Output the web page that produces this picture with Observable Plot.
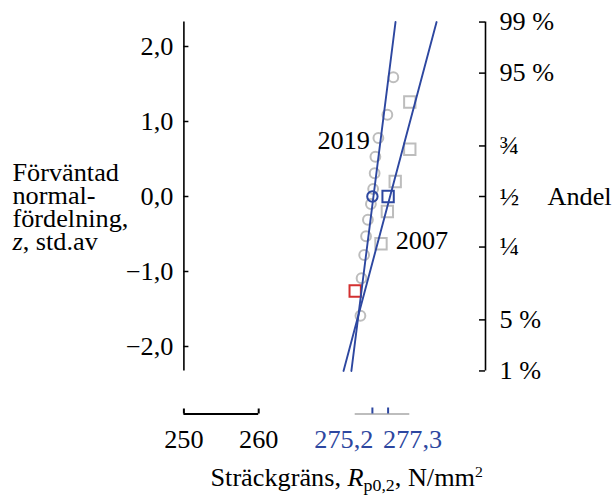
<!DOCTYPE html>
<html><head><meta charset="utf-8">
<script src="https://cdn.jsdelivr.net/npm/d3@7"></script>
<script src="https://cdn.jsdelivr.net/npm/@observablehq/plot@0.6"></script>
<style>
html,body{margin:0;padding:0;background:#fff;}
#chart svg{display:block;}
</style>
</head><body><div id="chart"></div>
<script>
// ---- data ----
const z2019 = [1.59, 1.09, 0.78, 0.53, 0.31, 0.10, -0.10, -0.31, -0.53, -0.78, -1.09, -1.59];
const x2019 = [278.0, 277.2, 276.0, 275.6, 275.5, 275.3, 275.0, 274.6, 274.35, 274.1, 273.75, 273.6];
const z2007 = [1.26, 0.63, 0.20, -0.20, -0.63, -1.26];
const x2007 = [280.2, 280.2, 278.25, 277.2, 276.35, 272.9];
const seriesNames = ["2019", "2007"];
const means = [275.2, 277.3];
const meanLabels = ["275,2", "277,3"];
const fitZ = [-2.326, 2.326];
const fit2019 = [272.39, 278.29];
const fit2007 = [271.34, 283.78];
const zTicks = [-2, -1, 0, 1, 2];
const andelZ = [-2.326, -1.645, -0.674, 0, 0.674, 1.645, 2.326];
const andelLabels = ["1 %", "5 %", "\u00BC", "\u00BD", "\u00BE", "95 %", "99 %"];
const xTicks = [250, 260];
const yTitleLines = ["F\u00F6rv\u00E4ntad", "normal-", "f\u00F6rdelning,", "z, std.av"];
const rightTitle = "Andel";
const xTitle = "Str\u00E4ckgr\u00E4ns, Rp0,2, N/mm2";

// ---- layout ----
const W = 613, H = 495;
const FS = 25, SX = 1.05;
const pxPerUnit = 7.48, x0px = 183.4, xRpx = 485;
const zPx = 75, z0px = 196;
const xs = {domain: [250, 250 + (xRpx - x0px) / pxPerUnit], range: [x0px, xRpx]};
const zTop = 2.326, zBot = -2.326;
const yz = {domain: [zBot, zTop], range: [z0px - zBot * zPx, z0px - zTop * zPx]};
const zAt = py => (z0px - py) / zPx;
const xLen = px => px / pxPerUnit;
const xR = xs.domain[1];
const axisZ = zAt(413.5);
const labelZ = zAt(439.5);
const blue = "#2d47a0", red = "#d33030", gray = "#bdbdbd";
const fmt = d => (d < 0 ? "\u2212" : "") + Math.abs(d).toFixed(1).replace(".", ",");

const pts2019 = z2019.map((z, i) => ({z, x: x2019[i]}));
const pts2007 = z2007.map((z, i) => ({z, x: x2007[i]}));
const fits = [fit2019, fit2007];
const fitLines = seriesNames.flatMap((s, k) => fitZ.map((z, i) => ({series: s, z, x: fits[k][i]})));
const along = (k, z) => fits[k][0] + (z - fitZ[0]) / (fitZ[1] - fitZ[0]) * (fits[k][1] - fits[k][0]);
const allX = [...x2019, ...x2007];
const minAll = d3.min(allX), maxAll = d3.max(allX);
const min2007 = d3.min(x2007);

const plot = Plot.plot({
  width: W, height: H, margin: 0,
  x: {...xs, axis: null},
  y: {...yz, axis: null},
  style: {fontFamily: "'Liberation Serif','Times New Roman',serif", fontSize: FS + "px", background: "white", color: "black", overflow: "visible"},
  marks: [
    // left axis
    Plot.ruleX([xs.domain[0]], {y1: zBot, y2: zTop, stroke: "black", strokeWidth: 1.6}),
    Plot.ruleY(zTicks, {x1: xs.domain[0], x2: xs.domain[0] + xLen(5), stroke: "black", strokeWidth: 1.5}),
    Plot.text(zTicks, {x: xs.domain[0], y: d => d, text: fmt, textAnchor: "end", dx: -10.5}),
    Plot.text([yTitleLines.join("\n")], {frameAnchor: "left", y: zAt(207.5), dx: 12, textAnchor: "start", lineHeight: 23 / FS}),
    // right axis
    Plot.ruleX([xR], {y1: zBot, y2: zTop, stroke: "black", strokeWidth: 1.6}),
    Plot.ruleY(andelZ, {x1: xR - xLen(6), x2: xR, stroke: "black", strokeWidth: 1.5}),
    Plot.text(andelZ, {x: xR, y: d => d, text: (d, i) => andelLabels[i], textAnchor: "start", dx: 14}),
    Plot.text([rightTitle], {x: xR, y: 0, textAnchor: "start", dx: 62}),
    // bottom axis
    Plot.ruleY([axisZ], {x1: minAll, x2: maxAll, stroke: gray, strokeWidth: 2}),
    Plot.ruleY([axisZ], {x1: xTicks[0], x2: xTicks[1], stroke: "black", strokeWidth: 2}),
    Plot.ruleX(xTicks, {y1: axisZ, y2: zAt(408.5), stroke: "black", strokeWidth: 2}),
    Plot.ruleX(means, {y1: axisZ, y2: zAt(407.5), stroke: blue, strokeWidth: 2}),
    Plot.text(xTicks, {x: d => d, y: labelZ, text: d => String(d)}),
    Plot.text([means[0]], {x: d => d, y: labelZ, text: () => meanLabels[0], textAnchor: "end", dx: 1, fill: blue}),
    Plot.text([means[1]], {x: d => d, y: labelZ, text: () => meanLabels[1], textAnchor: "start", dx: -5, fill: blue}),
    Plot.text([xTitle], {frameAnchor: "bottom-left", dx: 210, dy: -18, textAnchor: "start", lineAnchor: "middle"}),
    // data points
    Plot.dot(pts2019, {x: "x", y: "z", r: 4.9, stroke: gray, strokeWidth: 2, fill: "none"}),
    Plot.dot(pts2007, {x: "x", y: "z", r: 6.4, symbol: "square", stroke: d => d.x === min2007 ? red : gray, strokeWidth: 2, fill: "none"}),
    // fitted lines
    Plot.line(fitLines, {x: "x", y: "z", z: "series", stroke: blue, strokeWidth: 1.9}),
    // mean markers
    Plot.dot([means[0]], {x: d => d, y: 0, r: 5.2, stroke: blue, strokeWidth: 2, fill: "none"}),
    Plot.dot([means[1]], {x: d => d, y: 0, r: 6.4, symbol: "square", stroke: blue, strokeWidth: 2, fill: "none"}),
    // series labels
    Plot.text([0.74], {x: z => along(0, z), y: z => z, text: () => seriesNames[0], textAnchor: "end", dx: -10.5}),
    Plot.text([-0.587], {x: z => along(1, z), y: z => z, text: () => seriesNames[1], textAnchor: "start", dx: 17.4})
  ]
});

// rich text: italics, sub/superscripts
plot.querySelectorAll("text, tspan").forEach(t => {
  if (t.children.length) return;
  if (t.textContent === "z, std.av") {
    t.innerHTML = '<tspan font-style="italic">z</tspan>, std.av';
  } else if (t.textContent === xTitle) {
    t.innerHTML = 'Str\u00E4ckgr\u00E4ns, <tspan font-style="italic">R</tspan><tspan dy="5" font-size="17">p0,2</tspan><tspan dy="-5">, N/mm</tspan><tspan dy="-9" font-size="15">2</tspan>';
  }
});
// widen glyphs slightly about each text's anchor, as in the reference
plot.querySelectorAll("text").forEach(t => {
  const x = +(t.getAttribute("x") || 0), y = +(t.getAttribute("y") || 0);
  let tr = t.getAttribute("transform") || "";
  if (x || y) { tr = `translate(${x},${y}) ` + tr; t.removeAttribute("x"); t.removeAttribute("y"); }
  t.setAttribute("transform", (tr + ` scale(${SX},1)`).trim());
});
document.getElementById("chart").appendChild(plot);
</script>
</body></html>
